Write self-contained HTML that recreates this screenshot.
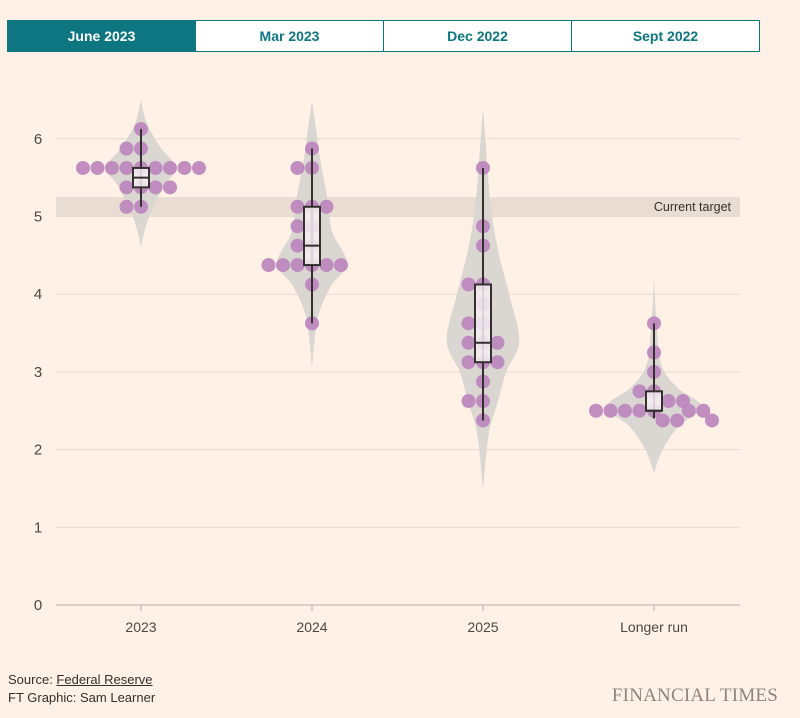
<!DOCTYPE html>
<html><head><meta charset="utf-8">
<style>
body{margin:0;width:800px;height:718px;background:#fff1e5;font-family:"Liberation Sans",sans-serif;overflow:hidden;position:relative}
.tabs{position:absolute;left:8px;top:20px;width:752px;height:32px;display:flex}
.tab{flex:1;border:1px solid #0d7680;margin-left:-1px;display:flex;align-items:center;justify-content:center;font-size:14px;font-weight:bold;color:#0d7680;background:#fff}
.tab.active{background:#0d7680;color:#fff}
svg{position:absolute;left:0;top:0}
.foot{position:absolute;left:8px;top:671px;font-size:13px;color:#33302e;line-height:18px}
.ft{position:absolute;right:22px;top:685px;font-family:"Liberation Serif",serif;font-size:19px;color:#8c8580;letter-spacing:0.2px}
</style></head><body>
<div class="tabs">
<div class="tab active">June 2023</div>
<div class="tab">Mar 2023</div>
<div class="tab">Dec 2022</div>
<div class="tab">Sept 2022</div>
</div>
<svg id="chart" width="800" height="718"></svg>
<div class="foot">Source: <span style="text-decoration:underline">Federal Reserve</span><br>FT Graphic: Sam Learner</div>
<div class="ft">FINANCIAL TIMES</div>
<script>
const categories=["2023","2024","2025","Longer run"];
const yTicks=[0,1,2,3,4,5,6];
const targetBand=[5.0,5.25];
// dots: [value, horizontal slot offset]
const dots2023=[[6.125,0],[5.875,-1],[5.875,0],[5.625,-4],[5.625,-3],[5.625,-2],[5.625,-1],[5.625,0],[5.625,1],[5.625,2],[5.625,3],[5.625,4],[5.375,-1],[5.375,0],[5.375,1],[5.375,2],[5.125,-1],[5.125,0]];
const dots2024=[[5.875,0],[5.625,-1],[5.625,0],[5.125,-1],[5.125,0],[5.125,1],[4.875,-1],[4.875,0],[4.625,-1],[4.625,0],[4.375,-3],[4.375,-2],[4.375,-1],[4.375,0],[4.375,1],[4.375,2],[4.125,0],[3.625,0]];
const dots2025=[[5.625,0],[4.875,0],[4.625,0],[4.125,-1],[4.125,0],[3.875,0],[3.625,-1],[3.625,0],[3.375,-1],[3.375,0],[3.375,1],[3.125,-1],[3.125,0],[3.125,1],[2.875,0],[2.625,-1],[2.625,0],[2.375,0]];
const dotsLong=[[3.625,0],[3.25,0],[3.0,0],[2.75,-1],[2.75,0],[2.625,1],[2.625,2],[2.5,-4],[2.5,-3],[2.5,-2],[2.5,-1],[2.5,0],[2.5,2.4],[2.5,3.4],[2.375,0.6],[2.375,1.6],[2.375,4]];
const allDots=[dots2023,dots2024,dots2025,dotsLong];
// box stats: [whiskerLow, q1, median, q3, whiskerHigh]
const boxStats=[[5.125,5.375,5.5,5.625,6.125],[3.625,4.375,4.625,5.125,5.875],[2.375,3.125,3.375,4.125,5.625],[2.4,2.5,2.5,2.75,3.625]];
// violin profile: [value, half-width in dot slots]
const violin2023=[[6.5,0],[6.2,0.4],[5.9,1.3],[5.63,2.4],[5.4,1.6],[5.1,0.8],[4.85,0.3],[4.6,0]];
const violin2024=[[6.5,0],[6.1,0.3],[5.7,0.6],[5.2,1.1],[4.8,1.4],[4.4,2.4],[4.1,1.3],[3.7,0.4],[3.05,0]];
const violin2025=[[6.4,0],[5.9,0.2],[5.2,0.5],[4.6,1],[4.0,1.8],[3.4,2.5],[3.0,1.6],[2.6,1.0],[2.2,0.4],[1.5,0]];
const violinLong=[[4.2,0],[3.7,0.15],[3.1,0.5],[2.8,1.6],[2.55,3.3],[2.3,1.7],[2.0,0.6],[1.7,0]];
const violins=[violin2023,violin2024,violin2025,violinLong];

const NS="http://www.w3.org/2000/svg";
const svg=document.getElementById('chart');
const X0=56,X1=740,Y0=605,PXU=77.7,SLOT=14.5,R=7;
function y(v){return Y0-v*PXU;}
function xc(i){return 141+i*171;}
function el(tag,attrs,parent){const e=document.createElementNS(NS,tag);for(const k in attrs)e.setAttribute(k,attrs[k]);(parent||svg).appendChild(e);return e;}
function smooth(pts){
  let d='M'+pts[0][0]+' '+pts[0][1];
  for(let i=0;i<pts.length-1;i++){
    const p0=pts[Math.max(0,i-1)],p1=pts[i],p2=pts[i+1],p3=pts[Math.min(pts.length-1,i+2)];
    const c1=[p1[0]+(p2[0]-p0[0])/6,p1[1]+(p2[1]-p0[1])/6];
    const c2=[p2[0]-(p3[0]-p1[0])/6,p2[1]-(p3[1]-p1[1])/6];
    d+='C'+c1[0]+' '+c1[1]+' '+c2[0]+' '+c2[1]+' '+p2[0]+' '+p2[1];
  }
  return d;
}

const band=el('rect',{x:X0,y:y(targetBand[1]),width:X1-X0,height:y(targetBand[0])-y(targetBand[1]),fill:'#e9ddd3'});


el('line',{x1:X0,x2:X1,y1:y(targetBand[0]),y2:y(targetBand[0]),stroke:'#cdbfb3','stroke-width':1});
const bt=el('text',{x:731,y:y(targetBand[1])+14,'text-anchor':'end','font-size':12.5,fill:'#33302e','font-family':'Liberation Sans, sans-serif'});
bt.textContent='Current target';



yTicks.forEach(t=>{
  const g=el('line',{x1:X0,x2:X1,y1:y(t),y2:y(t),stroke:t===0?'#b8aea6':'#e6d9ce','stroke-width':1});
  
  
  const tl=el('text',{x:38,y:y(t)+5,'text-anchor':'middle','font-size':15,fill:'#4d4845','font-family':'Liberation Sans, sans-serif'});
  tl.textContent=t;
  
  
});
categories.forEach((c,i)=>{
  el('line',{x1:xc(i),x2:xc(i),y1:Y0,y2:Y0+6,stroke:'#b8aea6'});
  const tl=el('text',{x:xc(i),y:Y0+27,'text-anchor':'middle','font-size':14,fill:'#4d4845','font-family':'Liberation Sans, sans-serif'});
  tl.textContent=c;
  
  
});

violins.forEach((prof,i)=>{
  const cx=xc(i);
  const right=prof.map(p=>[cx+p[1]*SLOT,y(p[0])]);
  const left=prof.slice().reverse().map(p=>[cx-p[1]*SLOT,y(p[0])]);
  const d=smooth(right)+smooth(left).replace(/^M[^C]*/,'')+'Z';
  const v=el('path',{d:d,fill:'#dad6d2'});
  
  
});
allDots.forEach((ds,i)=>{
  ds.forEach(d=>{
    const c=el('circle',{cx:xc(i)+d[1]*SLOT,cy:y(d[0]),r:R,fill:'#bd86bd','fill-opacity':0.92});
    
    
  });
});
boxStats.forEach((b,i)=>{
  const cx=xc(i),w=16;
  const wl=el('line',{x1:cx,x2:cx,y1:y(b[0]),y2:y(b[4]),stroke:'#33302e','stroke-width':2});
  
  
  const bx=el('rect',{x:cx-w/2,y:y(b[3]),width:w,height:y(b[1])-y(b[3]),fill:'#f4eef2','fill-opacity':0.85,stroke:'#33302e','stroke-width':2});
  
  
  const md=el('line',{x1:cx-w/2,x2:cx+w/2,y1:y(b[2]),y2:y(b[2]),stroke:'#33302e','stroke-width':2});
  
  
});
</script>
</body></html>
